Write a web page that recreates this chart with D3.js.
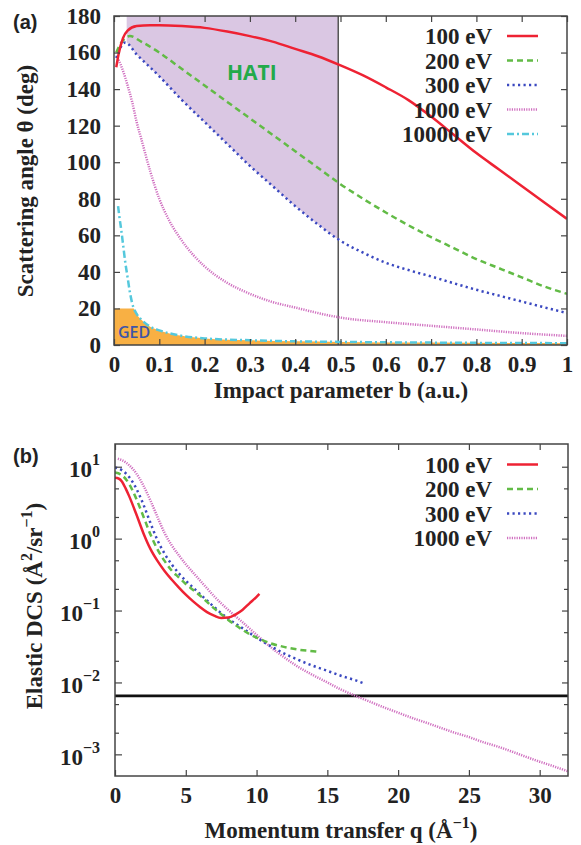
<!DOCTYPE html>
<html>
<head>
<meta charset="UTF-8">
<title>Scattering angle and elastic DCS</title>
</head>
<body style="margin:0; background:#fff">
<svg width="581" height="845" font-family="Liberation Serif"></svg>
<script src="https://cdn.jsdelivr.net/npm/d3@7"></script>
<script>
// ---- (a) scattering angle (deg) vs impact parameter b (a.u.) ----
var namesA = ["100 eV", "200 eV", "300 eV", "1000 eV", "10000 eV"];

var b100  = [0.005, 0.01, 0.02, 0.03, 0.05, 0.08, 0.1, 0.15, 0.2, 0.25, 0.3, 0.35, 0.4, 0.45, 0.5, 0.55, 0.6, 0.65, 0.7, 0.75, 0.8, 0.85, 0.9, 0.95, 1.0];
var th100 = [152, 159, 168, 172, 174.5, 175, 175, 174.5, 173.5, 171.5, 169, 166, 162, 158, 153, 147.5, 141, 134, 125, 115, 105, 96, 87, 78, 69];

var b200  = [0.005, 0.015, 0.025, 0.035, 0.06, 0.1, 0.15, 0.2, 0.25, 0.3, 0.35, 0.4, 0.45, 0.5, 0.55, 0.6, 0.65, 0.7, 0.75, 0.8, 0.85, 0.9, 0.95, 1.0];
var th200 = [160, 165, 168, 169, 166, 160, 151, 142, 133, 124, 115, 106, 97, 88, 80, 72.5, 65.5, 59, 53, 47, 42, 37, 32, 28];

var b300  = [0.005, 0.015, 0.025, 0.05, 0.1, 0.15, 0.2, 0.25, 0.3, 0.35, 0.4, 0.45, 0.5, 0.55, 0.6, 0.65, 0.7, 0.75, 0.8, 0.85, 0.9, 0.95, 1.0];
var th300 = [157, 163, 165.5, 159, 147, 134, 122, 110, 98, 87, 76, 66, 57, 50.5, 45, 41, 37.5, 33.8, 30.2, 27, 23.8, 20.6, 17.5];

var b1000  = [0.01, 0.02, 0.03, 0.04, 0.05, 0.06, 0.08, 0.1, 0.12, 0.15, 0.2, 0.25, 0.3, 0.35, 0.4, 0.45, 0.5, 0.6, 0.7, 0.8, 0.9, 1.0];
var th1000 = [156, 150, 142, 133, 122, 113, 95, 80, 69, 57, 43, 34, 28, 23.5, 20.5, 17.5, 15, 12.5, 10.5, 8.5, 6.5, 5];

var b10000  = [0.009, 0.012, 0.016, 0.02, 0.025, 0.03, 0.035, 0.04, 0.05, 0.06, 0.08, 0.1, 0.15, 0.2, 0.3, 0.4, 0.5, 0.7, 1.0];
var th10000 = [76, 70, 63, 55, 45, 37, 29, 23, 17, 14, 10, 8, 5, 3.6, 2.6, 2, 1.7, 1.3, 1];

var hatiRange = [0.028, 0.495];   // b range of the HATI window
var gedTop = 20;                  // deg, upper edge of the GED window
var ticksAx = [0, 0.1, 0.2, 0.3, 0.4, 0.5, 0.6, 0.7, 0.8, 0.9, 1];
var ticksAy = [0, 20, 40, 60, 80, 100, 120, 140, 160, 180];

// ---- (b) elastic DCS vs momentum transfer q ----
var namesB = ["100 eV", "200 eV", "300 eV", "1000 eV"];

var q100   = [0, 0.25, 0.5, 0.75, 1.0, 1.5, 2.0, 2.5, 3.0, 3.5, 4.0, 4.5, 5.0, 5.5, 6.0, 6.5, 7.0, 7.5, 8.0, 8.5, 9.0, 9.5, 10.0, 10.2];
var dcs100 = [7.0, 6.85, 6.2, 5.0, 3.9, 2.2, 1.2, 0.72, 0.49, 0.355, 0.27, 0.21, 0.166, 0.135, 0.112, 0.095, 0.085, 0.079, 0.080, 0.088, 0.102, 0.126, 0.155, 0.17];

var q200   = [0, 0.5, 1.0, 1.5, 2.0, 2.5, 3.0, 3.5, 4.0, 4.5, 5.0, 5.5, 6.0, 6.5, 7.0, 7.5, 8.0, 8.5, 9.0, 9.5, 10.0, 11.0, 12.0, 13.0, 14.0, 14.5];
var dcs200 = [8.3, 7.6, 5.75, 3.6, 2.05, 1.15, 0.71, 0.49, 0.36, 0.29, 0.234, 0.195, 0.162, 0.132, 0.107, 0.089, 0.074, 0.063, 0.054, 0.047, 0.042, 0.035, 0.031, 0.0285, 0.0272, 0.0266];

var q300   = [0, 0.5, 1.0, 1.5, 2.0, 2.5, 3.0, 3.5, 4.0, 4.5, 5.0, 5.5, 6.0, 6.5, 7.0, 7.5, 8.0, 8.5, 9.0, 10.0, 11.0, 12.0, 13.0, 14.0, 15.0, 16.0, 17.0, 17.7];
var dcs300 = [9.8, 8.9, 7.2, 5.0, 3.0, 1.66, 0.95, 0.62, 0.44, 0.33, 0.26, 0.21, 0.17, 0.138, 0.112, 0.092, 0.077, 0.066, 0.057, 0.042, 0.032, 0.025, 0.0204, 0.017, 0.0145, 0.0123, 0.0107, 0.0095];

var q1000   = [0.2, 0.5, 1.0, 1.5, 2.0, 2.5, 3.0, 3.5, 4.0, 4.5, 5.0, 5.5, 6.0, 6.5, 7.0, 7.5, 8.0, 9.0, 10.0, 11.0, 12.0, 13.0, 14.0, 15.0, 16.0, 17.0, 18.0, 19.0, 20.0, 21.0, 22.0, 23.0, 24.0, 25.0, 26.0, 27.0, 28.0, 29.0, 30.0, 31.0, 32.0];
var dcs1000 = [12.9, 12.3, 10.5, 8.1, 5.5, 3.4, 2.0, 1.2, 0.81, 0.59, 0.44, 0.34, 0.263, 0.204, 0.158, 0.126, 0.102, 0.069, 0.046, 0.031, 0.022, 0.0162, 0.0126, 0.010, 0.0079, 0.0065, 0.0054, 0.0045, 0.0038, 0.0032, 0.00275, 0.00234, 0.0020, 0.00174, 0.00148, 0.00129, 0.0011, 0.00093, 0.00079, 0.00068, 0.00058];

var refLevel = 0.0065;            // horizontal reference line
var ticksBx = [0, 5, 10, 15, 20, 25, 30];
var decadesB = [1e-3, 1e-2, 1e-1, 1, 10];
var minorsB = [2e-3, 5e-3, 2e-2, 5e-2, 0.2, 0.5, 2, 5];

// line styles, same order as the names
var colors = ["#ee2233", "#62bb46", "#3a48c0", "#d070c0", "#55c8dc"];
var dashes = [null, "6,4", "2.2,3.3", "1.2,1.2", "7,3,2,3"];

var serif = "Liberation Serif";
var sans = "Open Sans";

var svg = d3.select("svg");

function frameAxes(g, x, y, box, xt, yt, xfmt) {
    g.append("g").attr("transform", "translate(0," + box.bottom + ")")
        .call(d3.axisBottom(x).tickValues(xt).tickSize(-6).tickPadding(11).tickFormat(xfmt));
    g.append("g").attr("transform", "translate(0," + box.top + ")")
        .call(d3.axisTop(x).tickValues(xt).tickSize(-6).tickFormat(""));
    g.append("g").attr("transform", "translate(" + box.right + ",0)")
        .call(d3.axisRight(y).tickValues(yt).tickSize(-6).tickFormat(""));
    g.selectAll(".domain").remove();
    g.append("rect")
        .attr("x", box.left).attr("y", box.top)
        .attr("width", box.right - box.left).attr("height", box.bottom - box.top)
        .attr("fill", "none").attr("stroke", "#444").attr("stroke-width", 1.5);
}

function legend(g, names, x, y0, step) {
    names.forEach(function(n, i) {
        var y = y0 + i * step;
        g.append("text").attr("x", x).attr("y", y)
            .attr("text-anchor", "end").text(n);
        g.append("line").attr("x1", x + 15).attr("x2", x + 46)
            .attr("y1", y - 8).attr("y2", y - 8)
            .attr("stroke", colors[i]).attr("stroke-width", 2.5)
            .attr("stroke-dasharray", dashes[i]);
    });
}

// ================= panel (a) =================
var boxA = {left: 114, top: 16, right: 567, bottom: 345};
var xA = d3.scaleLinear().domain([0, 1]).range([boxA.left, boxA.right]);
var yA = d3.scaleLinear().domain([0, 180]).range([boxA.bottom, boxA.top]);
var gA = svg.append("g");

var defs = svg.append("defs");
defs.append("clipPath").attr("id", "clipA").append("rect")
    .attr("x", boxA.left).attr("y", boxA.top)
    .attr("width", boxA.right - boxA.left).attr("height", boxA.bottom - boxA.top);
defs.append("clipPath").attr("id", "clipHati").append("rect")
    .attr("x", xA(hatiRange[0])).attr("y", yA(180))
    .attr("width", xA(hatiRange[1]) - xA(hatiRange[0])).attr("height", yA(0) - yA(180));
defs.append("clipPath").attr("id", "clipGed").append("rect")
    .attr("x", xA(0)).attr("y", yA(gedTop))
    .attr("width", xA(1) - xA(0)).attr("height", yA(0) - yA(gedTop));

// HATI window: above the 300 eV curve
gA.append("path").datum(d3.zip(b300, th300))
    .attr("clip-path", "url(#clipHati)")
    .attr("fill", "#dac7e3")
    .attr("d", d3.area().curve(d3.curveMonotoneX)
        .x(function(d) { return xA(d[0]); })
        .y0(yA(180))
        .y1(function(d) { return yA(d[1]); }));

// GED window: below 20 deg and below the 10000 eV curve
var ged = gA.append("g").attr("clip-path", "url(#clipGed)");
ged.append("rect").attr("x", xA(0)).attr("y", yA(gedTop))
    .attr("width", xA(b10000[0]) - xA(0) + 0.5).attr("height", yA(0) - yA(gedTop))
    .attr("fill", "#f8b044");
ged.append("path").datum(d3.zip(b10000, th10000))
    .attr("fill", "#f8b044")
    .attr("d", d3.area().curve(d3.curveMonotoneX)
        .x(function(d) { return xA(d[0]); })
        .y0(yA(0))
        .y1(function(d) { return yA(d[1]); }));

gA.append("line")
    .attr("x1", xA(hatiRange[1])).attr("x2", xA(hatiRange[1]))
    .attr("y1", yA(0)).attr("y2", yA(180))
    .attr("stroke", "#555").attr("stroke-width", 1.5);

var seriesA = [[b100, th100], [b200, th200], [b300, th300], [b1000, th1000], [b10000, th10000]];
var lineA = d3.line().curve(d3.curveMonotoneX)
    .x(function(d) { return xA(d[0]); })
    .y(function(d) { return yA(d[1]); });
var curvesA = gA.append("g").attr("clip-path", "url(#clipA)");
[4, 3, 2, 1, 0].forEach(function(i) {
    curvesA.append("path").datum(d3.zip(seriesA[i][0], seriesA[i][1]))
        .attr("fill", "none").attr("stroke", colors[i]).attr("stroke-width", 2.5)
        .attr("stroke-dasharray", dashes[i])
        .attr("d", lineA);
});

frameAxes(gA, xA, yA, boxA, ticksAx, ticksAy, d3.format("~g"));
gA.append("g").attr("transform", "translate(" + boxA.left + ",0)")
    .call(d3.axisLeft(yA).tickValues(ticksAy).tickSize(-6).tickPadding(13))
    .select(".domain").remove();

legend(gA, namesA, 492, 44, 24.5);

gA.append("text").attr("text-anchor", "middle")
    .attr("x", 341).attr("y", 398).text("Impact parameter b (a.u.)");
gA.append("text").attr("text-anchor", "middle")
    .attr("transform", "translate(33,181) rotate(-90)").text("Scattering angle θ (deg)");

// ================= panel (b) =================
var boxB = {left: 115, top: 444, right: 568, bottom: 776};
var xB = d3.scaleLinear().domain([0, 32]).range([boxB.left, boxB.right]);
var yB = d3.scaleLog().domain([5e-4, 20.7]).range([boxB.bottom, boxB.top]);
var gB = svg.append("g");

defs.append("clipPath").attr("id", "clipB").append("rect")
    .attr("x", boxB.left).attr("y", boxB.top)
    .attr("width", boxB.right - boxB.left).attr("height", boxB.bottom - boxB.top);

gB.append("line")
    .attr("x1", xB(0)).attr("x2", xB(32))
    .attr("y1", yB(refLevel)).attr("y2", yB(refLevel))
    .attr("stroke", "#111").attr("stroke-width", 2.6);

var seriesB = [[q100, dcs100], [q200, dcs200], [q300, dcs300], [q1000, dcs1000]];
var lineB = d3.line().curve(d3.curveMonotoneX)
    .x(function(d) { return xB(d[0]); })
    .y(function(d) { return yB(d[1]); });
var curvesB = gB.append("g").attr("clip-path", "url(#clipB)");
[3, 2, 1, 0].forEach(function(i) {
    curvesB.append("path").datum(d3.zip(seriesB[i][0], seriesB[i][1]))
        .attr("fill", "none").attr("stroke", colors[i]).attr("stroke-width", 2.5)
        .attr("stroke-dasharray", dashes[i])
        .attr("d", lineB);
});

frameAxes(gB, xB, yB, boxB, ticksBx, decadesB, d3.format("d"));
gB.append("g").attr("transform", "translate(" + boxB.right + ",0)")
    .call(d3.axisRight(yB).tickValues(minorsB).tickSize(-4).tickFormat(""))
    .select(".domain").remove();
gB.append("g").attr("transform", "translate(" + boxB.left + ",0)")
    .call(d3.axisLeft(yB).tickValues(minorsB).tickSize(-4).tickFormat(""))
    .select(".domain").remove();
var yAxB = gB.append("g").attr("transform", "translate(" + boxB.left + ",0)")
    .call(d3.axisLeft(yB).tickValues(decadesB).tickSize(-7).tickFormat(""));
yAxB.select(".domain").remove();
yAxB.selectAll(".tick").each(function(d) {
    var e = Math.round(Math.log10(d));
    var t = d3.select(this).append("text").attr("x", -15).attr("y", 10)
        .attr("text-anchor", "end");
    t.append("tspan").text("10");
    t.append("tspan").attr("dy", -12).attr("font-size", 16)
        .text(e < 0 ? "\u2212" + (-e) : String(e));
});

legend(gB, namesB, 492, 472.5, 24.5);

var xt = gB.append("text").attr("text-anchor", "middle")
    .attr("x", 341).attr("y", 838);
xt.append("tspan").text("Momentum transfer q (Å");
xt.append("tspan").attr("dy", -10).attr("font-size", 16).text("\u22121");
xt.append("tspan").attr("dy", 10).text(")");

var yt = gB.append("text").attr("text-anchor", "middle")
    .attr("transform", "translate(42,606) rotate(-90)");
yt.append("tspan").text("Elastic DCS (Å");
yt.append("tspan").attr("dy", -10).attr("font-size", 16).text("2");
yt.append("tspan").attr("dy", 10).text("/sr");
yt.append("tspan").attr("dy", -10).attr("font-size", 16).text("\u22121");
yt.append("tspan").attr("dy", 10).text(")");

// every text so far: bold serif, 23px (tick groups carry their own font attrs)
svg.selectAll("g").attr("font-family", null).attr("font-size", null);
svg.selectAll("text")
    .attr("font-family", serif).attr("font-weight", "bold")
    .attr("font-size", 23).attr("fill", "#222");
svg.selectAll(".tick line").attr("stroke", "#444").attr("stroke-width", 1.2);

// annotations and panel letters
gA.append("text").attr("x", 227).attr("y", 80)
    .attr("font-family", sans).attr("font-size", 21).attr("font-weight", "bold")
    .attr("fill", "#22aa4a").text("HATI");
gA.append("text").attr("x", 118).attr("y", 338)
    .attr("font-family", sans).attr("font-size", 16).attr("font-weight", 600)
    .attr("fill", "#3d55a8").text("GED");
[["(a)", 29], ["(b)", 463]].forEach(function(p) {
    svg.append("text").attr("x", 13).attr("y", p[1])
        .attr("font-family", "Liberation Sans")
        .attr("font-size", 20).attr("font-weight", "bold")
        .attr("fill", "#222").text(p[0]);
});
</script>
</body>
</html>
